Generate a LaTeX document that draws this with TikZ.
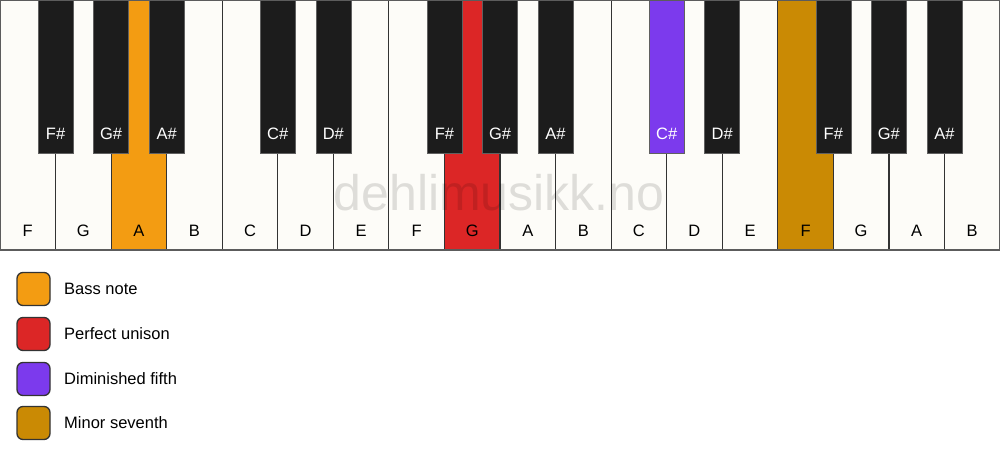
\documentclass[tikz,border=0pt]{standalone}
\usepackage{fontspec}
\setmainfont{Liberation Sans}
\definecolor{keywhite}{HTML}{FDFCF8}
\definecolor{keyblack}{HTML}{1C1C1C}
\definecolor{keyline}{HTML}{333333}
\definecolor{bassC}{HTML}{F39C12}
\definecolor{unisonC}{HTML}{DC2626}
\definecolor{dimC}{HTML}{7C3AED}
\definecolor{minC}{HTML}{CA8A04}
\tikzset{
  whitekey/.style={draw=keyline, line width=1.2pt, fill=keywhite},
  blackkey/.style={draw=keyblack!70!white, line width=0.6pt, fill=keyblack},
  wlabel/.style={font=\fontsize{16.5}{19}\selectfont, text=black, anchor=base},
  blabel/.style={font=\fontsize{16.5}{19}\selectfont, text=white, anchor=base},
  legbox/.style={draw=keyline, line width=1.3pt, rounded corners=6pt, minimum width=33pt, minimum height=33pt, inner sep=0pt},
  legtext/.style={font=\fontsize{16.5}{19}\selectfont, anchor=west},
}
\begin{document}
\begin{tikzpicture}[x=1pt,y=-1pt]
\useasboundingbox (0,0) rectangle (1000,461);
\fill[white] (0,0) rectangle (1000,461);
\def\kw{55.5556}
% white keys
\foreach \n/\i/\c in {F/0/keywhite,G/1/keywhite,A/2/bassC,B/3/keywhite,C/4/keywhite,D/5/keywhite,E/6/keywhite,F/7/keywhite,G/8/unisonC,A/9/keywhite,B/10/keywhite,C/11/keywhite,D/12/keywhite,E/13/keywhite,F/14/minC,G/15/keywhite,A/16/keywhite,B/17/keywhite}{
  \path[whitekey, fill=\c] ({\i*\kw},0) rectangle ({(\i+1)*\kw},250);
  \node[wlabel] (w\i) at ({(\i+0.5)*\kw},236) {\n};
}
% watermark
\node[font=\fontsize{50}{56}\selectfont, text=black, text opacity=0.12] (wm) at (499,193) {dehlimusikk.no};
% black keys
\foreach \n/\b/\c in {F\#/1/keyblack,G\#/2/keyblack,A\#/3/keyblack,C\#/5/keyblack,D\#/6/keyblack,F\#/8/keyblack,G\#/9/keyblack,A\#/10/keyblack,C\#/12/dimC,D\#/13/keyblack,F\#/15/keyblack,G\#/16/keyblack,A\#/17/keyblack}{
  \path[blackkey, fill=\c] ({\b*\kw-17.5},0) rectangle ({\b*\kw+17.5},153);
  \node[blabel] (b\b) at ({\b*\kw},139) {\n};
}
% outer border
\draw[draw=keyline!80!white, line width=1.3pt] (0,0) rectangle (1000,250);
% legend
\node[legbox, fill=bassC] (l1) at (33.5,289) {};
\node[legtext] (t1) at (60.7,289) {Bass note};
\node[legbox, fill=unisonC] (l2) at (33.5,334) {};
\node[legtext] (t2) at (60.7,334) {Perfect unison};
\node[legbox, fill=dimC] (l3) at (33.5,379) {};
\node[legtext] (t3) at (60.7,379) {Diminished fifth};
\node[legbox, fill=minC] (l4) at (33.5,423) {};
\node[legtext] (t4) at (60.7,423) {Minor seventh};
\end{tikzpicture}
\end{document}
